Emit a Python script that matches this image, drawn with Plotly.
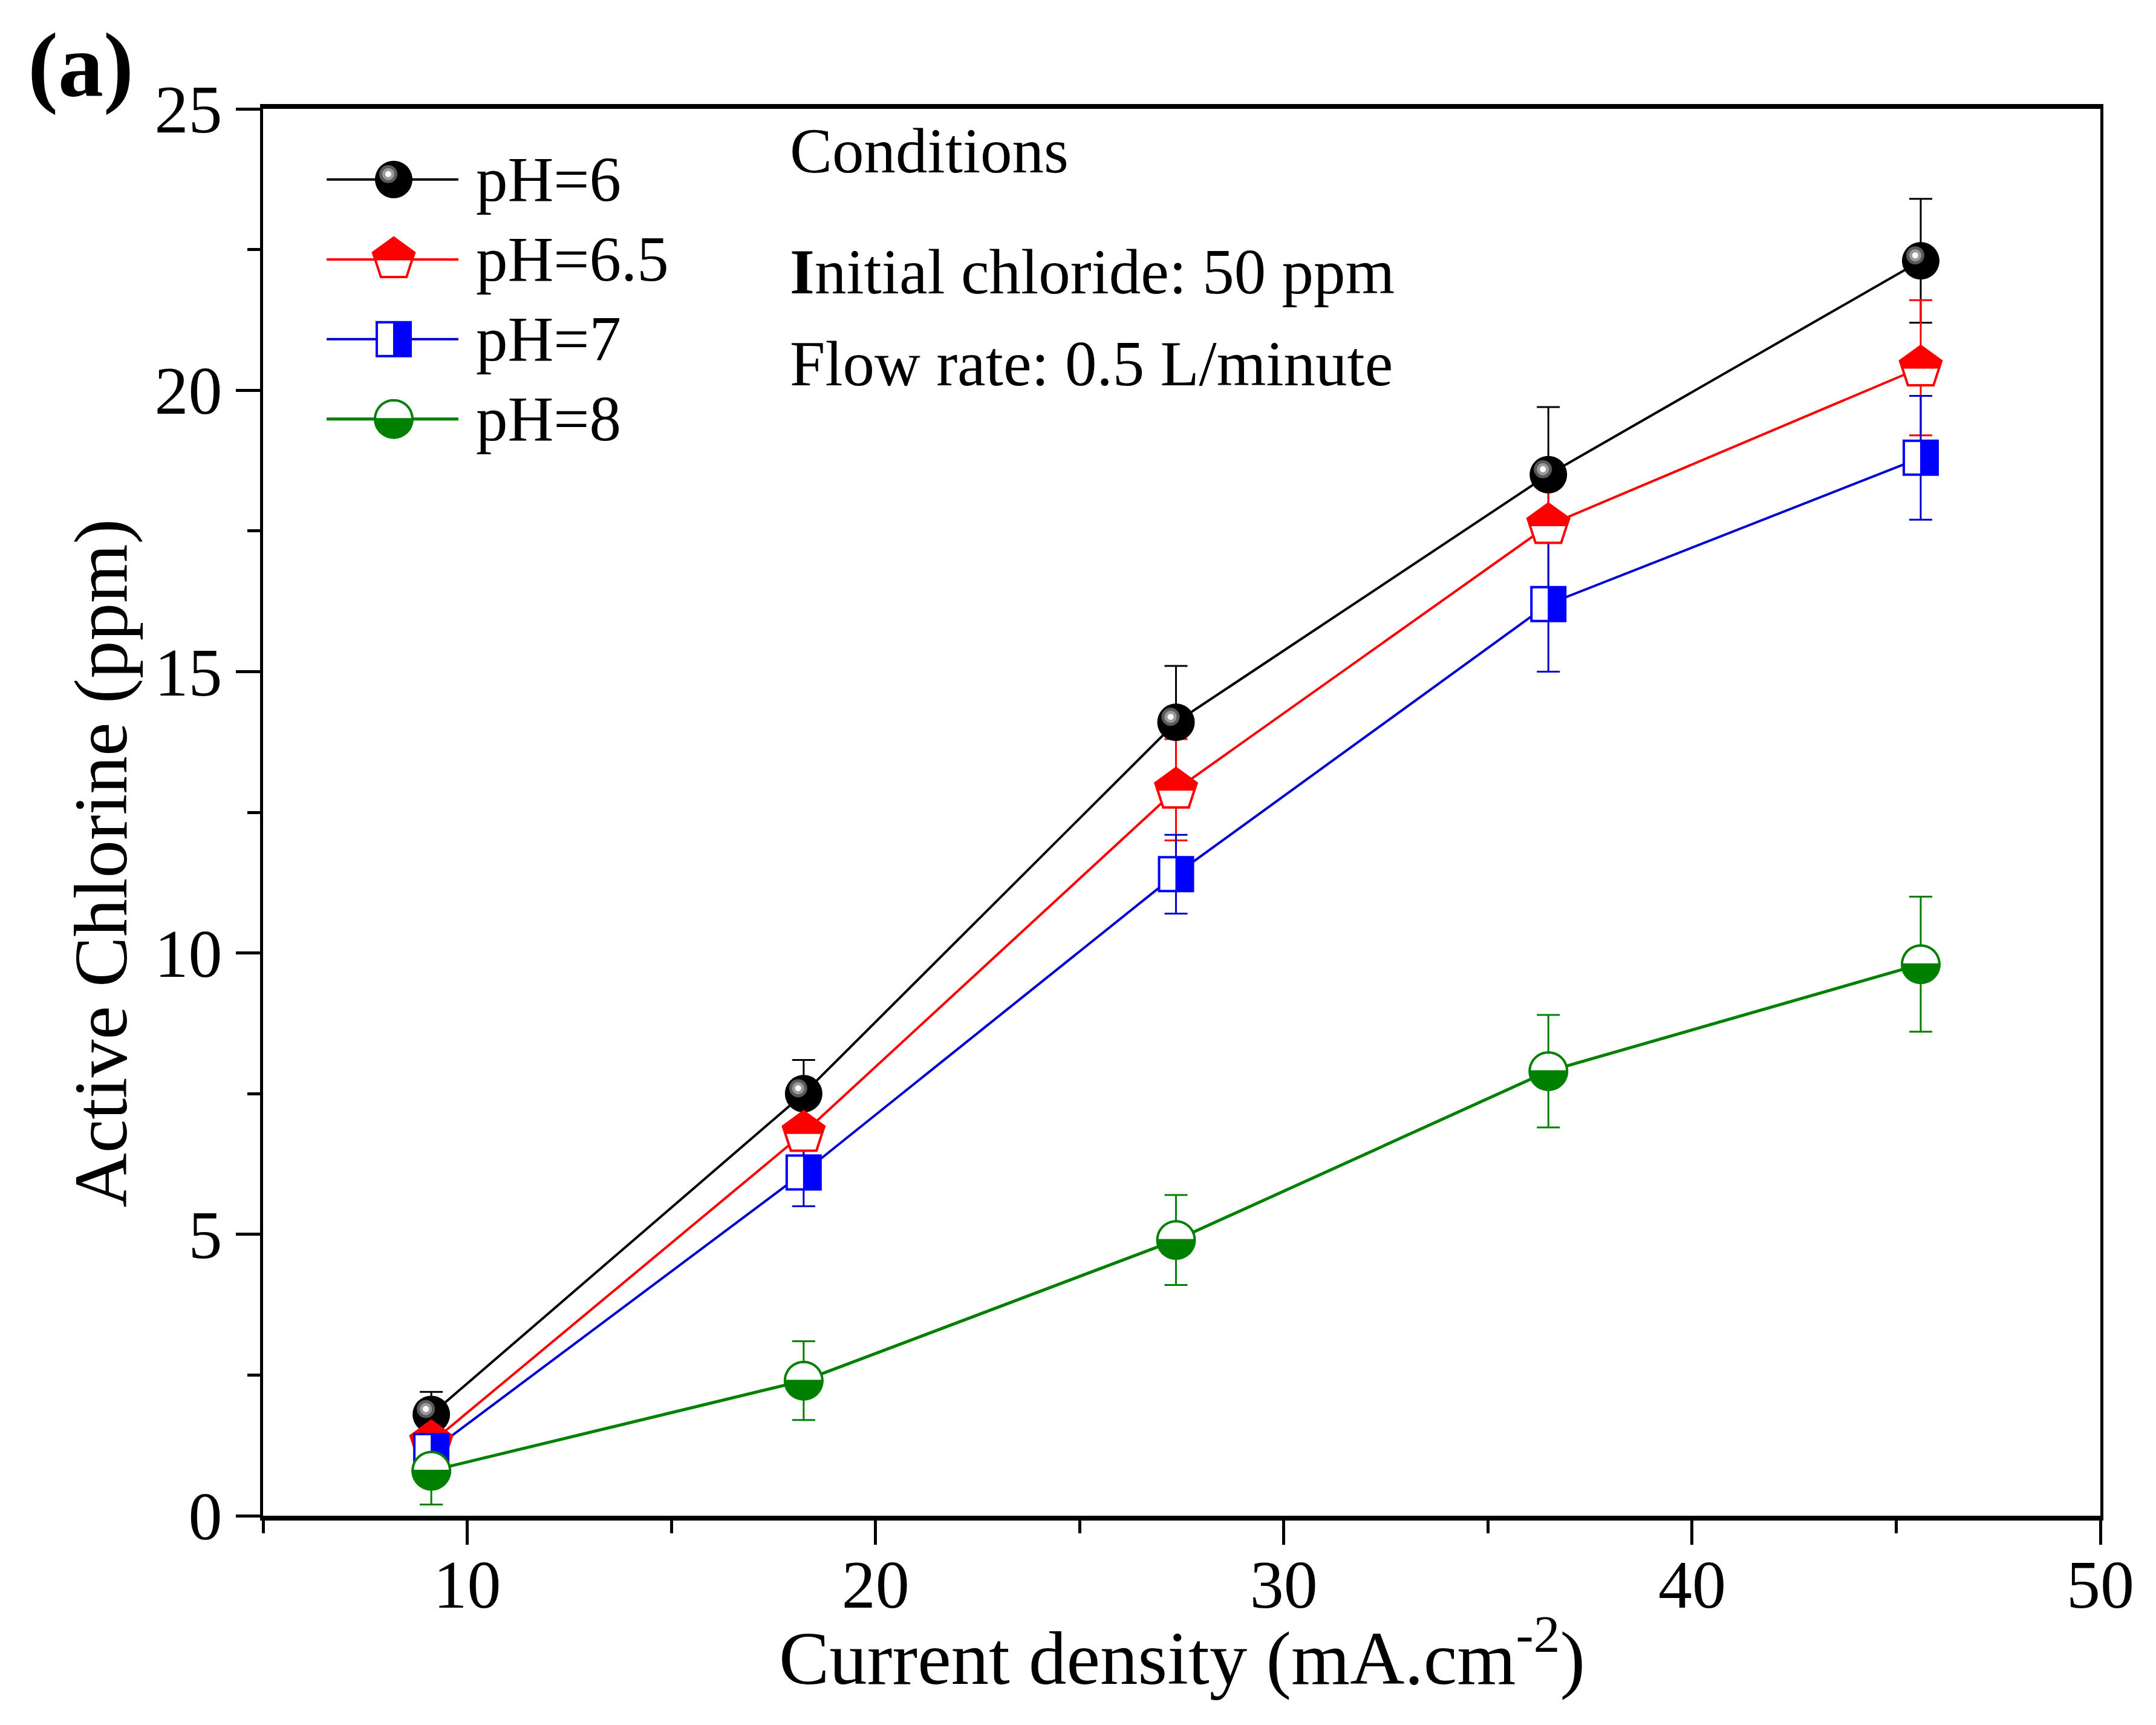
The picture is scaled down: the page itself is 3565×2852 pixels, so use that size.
import math
import plotly.graph_objects as go

# current density (mA/cm2) and active chlorine (ppm)
current_density = [9.12, 18.24, 27.36, 36.48, 45.6]

ph6 = [1.8, 7.5, 14.1, 18.5, 22.3]
ph6_err = [0.4, 0.6, 1.0, 1.2, 1.1]
ph65 = [1.3, 6.8, 12.9, 17.6, 20.4]
ph65_err = [0.5, 0.7, 0.9, 1.15, 1.2]
ph7 = [1.15, 6.1, 11.4, 16.2, 18.8]
ph7_err = [0.35, 0.6, 0.7, 1.2, 1.1]
ph8 = [0.8, 2.4, 4.9, 7.9, 9.8]
ph8_err = [0.6, 0.7, 0.8, 1.0, 1.2]

names = ["pH=6", "pH=6.5", "pH=7", "pH=8"]
conditions = ["Conditions", "<b>I</b>nitial chloride: 50 ppm", "Flow rate: 0.5 L/minute"]

FONT = "Liberation Serif"


def arc(cx, cy, r, a0, a1, n=40):
    pts = []
    for i in range(n + 1):
        a = math.radians(a0 + (a1 - a0) * i / n)
        pts.append((cx + r * math.cos(a), cy + r * math.sin(a)))
    return pts


def poly(pts):
    return "M" + " L".join("%.2f,%.2f" % p for p in pts) + " Z"


def glyph(kind, color):
    # pieces of a marker, in pixels around its centre (y up)
    if kind == "sphere":
        return [
            (poly(arc(0, 0, 31, 0, 360)), "black", "black", 0),
            (poly(arc(-9, 9, 15, 0, 360)), "#5a5a5a", "#5a5a5a", 0),
            (poly(arc(-9, 9, 10, 0, 360)), "#9a9a9a", "#9a9a9a", 0),
            (poly(arc(-9, 9, 5, 0, 360)), "white", "white", 0),
        ]
    if kind == "pentagon":
        R = 36
        ang = [90, 18, -54, -126, 162]
        pts = [(R * math.cos(math.radians(a)), R * math.sin(math.radians(a))) for a in ang]
        (x1, y1), (x2, y2) = pts[1], pts[2]
        t = y1 / (y1 - y2)
        xc = x1 + t * (x2 - x1)
        top = [pts[0], pts[1], (xc, 0), (-xc, 0), pts[4]]
        return [
            (poly(pts), "white", color, 4),
            (poly(top), color, color, 3),
        ]
    if kind == "square":
        h = 28
        return [
            (poly([(-h, -h), (h, -h), (h, h), (-h, h)]), "white", color, 4),
            (poly([(0, -h), (h, -h), (h, h), (0, h)]), color, color, 2),
        ]
    # half-filled circle (bottom half)
    return [
        (poly(arc(0, 0, 31, 0, 360)), "white", color, 4),
        (poly(arc(0, 0, 31, 180, 360)), color, color, 3),
    ]


def glyph_shapes(kind, color, xs, ys, ref_x="x", ref_y="y"):
    out = []
    for xv, yv in zip(xs, ys):
        for path, fill, line, lw in glyph(kind, color):
            out.append(dict(
                type="path", xref=ref_x, yref=ref_y,
                xsizemode="pixel", ysizemode="pixel",
                xanchor=xv, yanchor=yv, path=path,
                fillcolor=fill, line=dict(color=line, width=lw),
                layer="above",
            ))
    return out


series = [
    (names[0], ph6, ph6_err, "black", "black", "sphere", 4),
    (names[1], ph65, ph65_err, "#ff0000", "#ff0000", "pentagon", 4),
    (names[2], ph7, ph7_err, "#0000d0", "#0000ff", "square", 4),
    (names[3], ph8, ph8_err, "#008000", "#008000", "circle", 5),
]

fig = go.Figure()
shapes = []
annotations = []

# legend rows (paper coords)
leg_y = [0.9498, 0.893, 0.8363, 0.7796]
leg_x0, leg_xm, leg_x1, leg_tx = 0.0346, 0.0711, 0.1063, 0.1152

for i, (name, ys, err, lcol, mcol, kind, lw) in enumerate(series):
    fig.add_trace(go.Scatter(
        x=current_density, y=ys, mode="lines", name=name,
        line=dict(color=lcol, width=lw),
        error_y=dict(type="data", array=err, color=lcol, thickness=3, width=19),
        showlegend=False,
    ))
    shapes += glyph_shapes(kind, mcol, current_density, ys)

    # hand-drawn legend entry
    shapes.append(dict(type="line", xref="paper", yref="paper",
                       x0=leg_x0, x1=leg_x1, y0=leg_y[i], y1=leg_y[i],
                       line=dict(color=lcol, width=lw), layer="above"))
    shapes += glyph_shapes(kind, mcol, [leg_xm], [leg_y[i]], "paper", "paper")
    annotations.append(dict(text=name, xref="paper", yref="paper",
                            x=leg_tx, y=leg_y[i], xanchor="left", yanchor="middle",
                            showarrow=False, font=dict(size=105, family=FONT, color="black")))

for txt, yy in zip(conditions, [0.970, 0.884, 0.819]):
    annotations.append(dict(text=txt, xref="paper", yref="paper",
                            x=0.286, y=yy, xanchor="left", yanchor="middle",
                            showarrow=False, font=dict(size=105, family=FONT, color="black")))

annotations.append(dict(text="Current density (mA.cm<sup>-2</sup>)", xref="paper", yref="paper",
                        x=0.5, y=-0.097, xanchor="center", yanchor="middle", showarrow=False,
                        font=dict(size=125, family=FONT, color="black")))
annotations.append(dict(text="Active Chlorine (ppm)", xref="paper", yref="paper",
                        x=-0.0883, y=0.464, xanchor="center", yanchor="middle", textangle=-90,
                        showarrow=False, font=dict(size=125, family=FONT, color="black")))
annotations.append(dict(text="<b>(a)</b>", xref="paper", yref="paper",
                        x=-0.0994, y=1.031, xanchor="center", yanchor="middle", showarrow=False,
                        font=dict(size=150, family=FONT, color="black")))

fig.update_layout(
    width=3565, height=2852,
    margin=dict(l=427, r=100, t=172, b=354),
    paper_bgcolor="white", plot_bgcolor="white",
    font=dict(family=FONT, color="black"),
    shapes=shapes, annotations=annotations,
)
fig.update_xaxes(
    range=[5, 50], tick0=0, dtick=10, ticks="outside", ticklen=40, tickwidth=5,
    tickcolor="black", showline=True, linewidth=8, linecolor="black", mirror=True,
    showgrid=False, zeroline=False, tickfont=dict(size=112, family=FONT),
    ticklabelstandoff=-30,
    minor=dict(tick0=0, dtick=5, ticks="outside", ticklen=21, tickwidth=5,
               tickcolor="black", showgrid=False),
)
fig.update_yaxes(
    range=[0, 25], tick0=0, dtick=5, ticks="outside", ticklen=40, tickwidth=5,
    tickcolor="black", showline=True, linewidth=5, linecolor="black", mirror=True,
    showgrid=False, zeroline=False, tickfont=dict(size=112, family=FONT),
    minor=dict(tick0=0, dtick=2.5, ticks="outside", ticklen=21, tickwidth=5,
               tickcolor="black", showgrid=False),
)

fig.write_html("out.html")
